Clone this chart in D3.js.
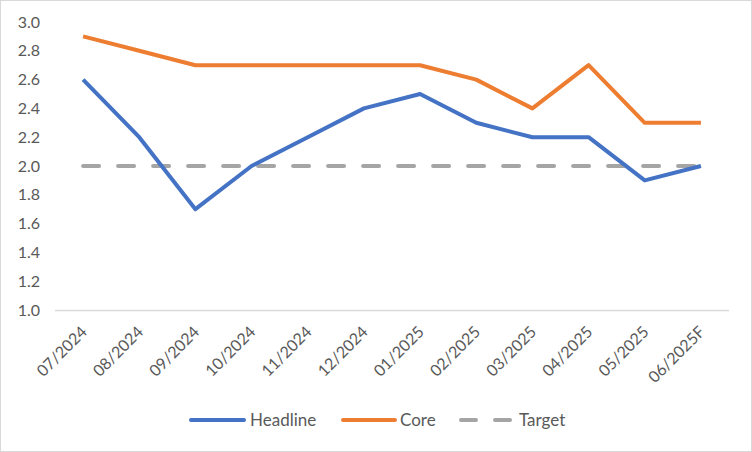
<!DOCTYPE html>
<html><head><meta charset="utf-8">
<script src="https://cdn.jsdelivr.net/npm/d3@7"></script>
<style>body{margin:0;background:#fff}svg{display:block}text{font-family:Lato,"Open Sans",sans-serif}</style>
</head><body><svg id="c" width="752" height="452"></svg>
<script>
const categories = ["07/2024","08/2024","09/2024","10/2024","11/2024","12/2024","01/2025","02/2025","03/2025","04/2025","05/2025","06/2025F"];
const headline = [2.6,2.2,1.7,2.0,2.2,2.4,2.5,2.3,2.2,2.2,1.9,2.0];
const core = [2.9,2.8,2.7,2.7,2.7,2.7,2.7,2.6,2.4,2.7,2.3,2.3];
const target = [2.0,2.0,2.0,2.0,2.0,2.0,2.0,2.0,2.0,2.0,2.0,2.0];
const yTicks = [1.0,1.2,1.4,1.6,1.8,2.0,2.2,2.4,2.6,2.8,3.0];

const svg = d3.select("#c");
svg.append("rect").attr("x",0.5).attr("y",0.5).attr("width",751).attr("height",451)
  .attr("fill","#fff").attr("stroke","#d9d9d9");
const L=55,R=729,T=22,B=310;
const x = d3.scaleBand().domain(categories).range([L,R]);
const y = d3.scaleLinear().domain([1,3]).range([B,T]);
const cx = d => x(d)+x.bandwidth()/2;

svg.append("g").selectAll("text").data(yTicks).join("text")
  .attr("x",40).attr("y",d=>y(d)).attr("dy","0.35em").attr("text-anchor","end")
  .attr("font-size",16).attr("fill","#595959").text(d=>d.toFixed(1));
svg.append("line").attr("x1",L).attr("x2",R).attr("y1",B+0.5).attr("y2",B+0.5)
  .attr("stroke","#d9d9d9").attr("stroke-width",1.5);
svg.append("g").selectAll("text").data(categories).join("text")
  .attr("transform",d=>`translate(${cx(d)+1},${B+19}) rotate(-45)`)
  .attr("text-anchor","end").attr("dy","0.35em")
  .attr("font-size",16).attr("fill","#595959").text(d=>d);

const line = d3.line().x((d,i)=>cx(categories[i])).y(d=>y(d));
const series = [
  {name:"Target", data:target, color:"#a5a5a5", dash:"16,19"},
  {name:"Headline", data:headline, color:"#4472c4"},
  {name:"Core", data:core, color:"#ed7d31"}
];
series.forEach(s=>{
  svg.append("path").attr("d",line(s.data)).attr("fill","none")
    .attr("stroke",s.color).attr("stroke-width",4)
    .attr("stroke-linejoin","round")
    .attr("stroke-linecap",s.dash?"round":"butt")
    .attr("stroke-dasharray",s.dash||null);
});

const leg = [
  {name:"Headline", color:"#4472c4", x1:191, x2:244, tx:250},
  {name:"Core", color:"#ed7d31", x1:343, x2:395, tx:400},
  {name:"Target", color:"#a5a5a5", x1:461, x2:511, tx:519, dash:"15,19"}
];
const ly=420;
leg.forEach(l=>{
  svg.append("line").attr("x1",l.x1).attr("x2",l.x2).attr("y1",ly).attr("y2",ly)
    .attr("stroke",l.color).attr("stroke-width",4)
    .attr("stroke-linecap","round").attr("stroke-dasharray",l.dash||null);
  svg.append("text").attr("x",l.tx).attr("y",ly).attr("dy","0.35em")
    .attr("font-size",17).attr("fill","#595959").text(l.name);
});
</script></body></html>
